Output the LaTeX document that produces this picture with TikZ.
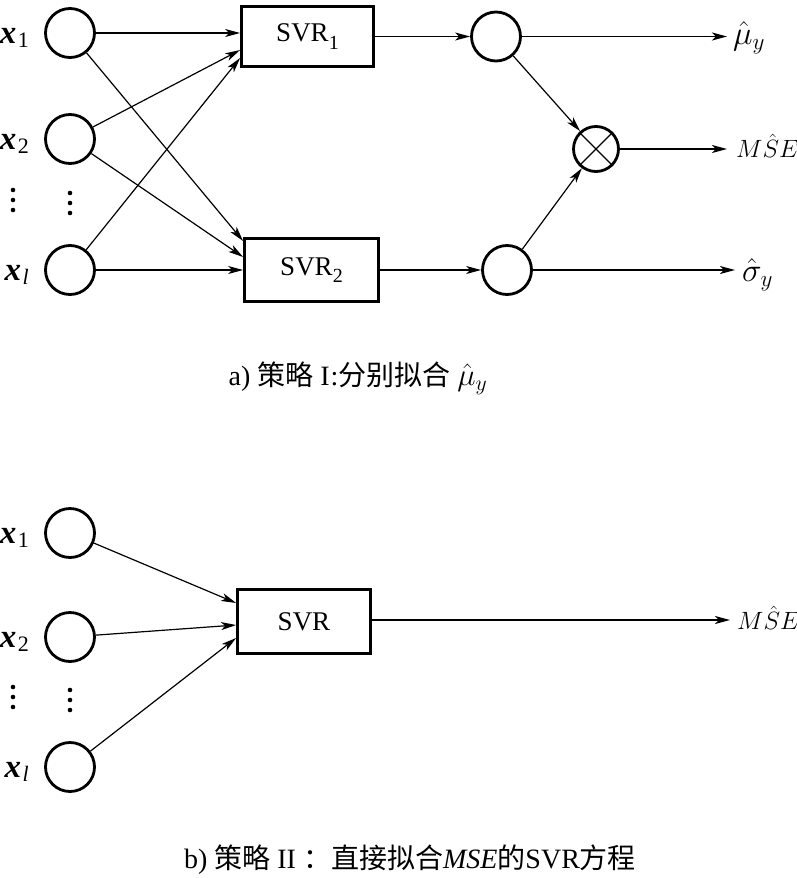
\documentclass[tikz,border=0pt]{standalone}
\usepackage{fix-cm}
\usepackage{fontspec}
\setmainfont{Liberation Serif}
\newfontfamily\cjk{Noto Sans CJK SC}
\usetikzlibrary{arrows.meta,calc}
\newcommand\xlab[1]{\textbf{\textit{x}}\kern1.5pt\raisebox{-0.3ex}{\fontsize{22}{22}\selectfont #1}}
\newcommand\svrsub[1]{SVR\raisebox{-0.28em}{\fontsize{20}{20}\selectfont #1}}
\begin{document}
\begin{tikzpicture}[x=1pt,y=-1pt,
  inp/.style={circle,draw,line width=2.8pt,minimum size=49pt,inner sep=0pt},
  box/.style={draw,line width=2.8pt,inner sep=0pt,font=\fontsize{27}{29}\selectfont},
  conn/.style={line width=1.2pt,-{Stealth[length=15pt,width=8pt,inset=4pt]}},
  thin/.style={line width=1.2pt},
  lab/.style={font=\fontsize{33}{35}\selectfont,anchor=base east,inner sep=0pt},
  outl/.style={font=\fontsize{25}{27}\selectfont,anchor=west,inner sep=0pt},
  outg/.style={font=\fontsize{33}{35}\selectfont,anchor=west,inner sep=0pt},
  capt/.style={font=\fontsize{28}{30}\selectfont,inner sep=0pt}
]
\useasboundingbox (0,0) rectangle (797,878);

% ---------- part a ----------
\node[inp] (a1) at (70,33) {};
\node[inp] (a2) at (70,139) {};
\node[inp] (a3) at (70,270) {};
\node[lab] (la1) at (29,43) {\xlab{1}};
\node[lab] (la2) at (29,149) {\xlab{2}};
\node[lab] (la3) at (29,280) {\xlab{\textit{l}}};
\foreach \yy in {190,200,210} {\fill (13,\yy) circle (2.3);}
\foreach \yy in {193,203,213} {\fill (70,\yy) circle (2.3);}

\node[box,minimum width=132pt,minimum height=60pt] (s1) at (307.5,36.5) {\svrsub{1}};
\node[box,minimum width=134pt,minimum height=63pt] (s2) at (311.5,270) {\svrsub{2}};

\draw[conn] (a1) -- ([yshift=3.5pt]s1.west);
\draw[conn] (a2) -- ([yshift=-13.5pt]s1.west);
\draw[conn] (a3) -- ([yshift=-21.5pt]s1.west);
\draw[conn] (a1) -- ([yshift=29pt]s2.west);
\draw[conn] (a2) -- ([yshift=13pt]s2.west);
\draw[conn] (a3) -- (s2.west);

\node[inp] (m1) at (496,36.5) {};
\node[inp] (m2) at (507,270) {};
\node[inp,minimum size=45pt] (ot) at (596,149) {};
\draw[thin] (ot.north west) -- (ot.south east);
\draw[thin] (ot.north east) -- (ot.south west);

\draw[conn] (s1.east) -- (m1.west);
\draw[conn] (s2.east) -- (m2.west);
\draw[conn] (m1) -- (ot);
\draw[conn] (m2) -- (ot);

\coordinate (o1) at (727,36.5);
\coordinate (o2) at (727,149);
\coordinate (o3) at (735,270);
\draw[conn] (m1) -- (o1);
\draw[conn] (ot) -- (o2);
\draw[conn] (m2) -- (o3);
\node[outg] (lo1) at (733,38) {$\hat{\mu}_y$};
\node[outl] (lo2) at (736,146) {$M\hat{S}E$};
\node[outg] (lo3) at (742,275) {$\hat{\sigma}_y$};

\node[capt] (capa) at (358,378) {a) {\cjk 策略}\ I\kern1pt:{\cjk 分别拟合}\ {\fontsize{31}{31}\selectfont$\hat{\mu}_y$}};

% ---------- part b ----------
\node[inp] (b1) at (70,533) {};
\node[inp] (b2) at (70,637) {};
\node[inp] (b3) at (70,767) {};
\node[lab] (lb1) at (29,543) {\xlab{1}};
\node[lab] (lb2) at (29,647) {\xlab{2}};
\node[lab] (lb3) at (29,777) {\xlab{\textit{l}}};
\foreach \yy in {687,697,707} {\fill (13,\yy) circle (2.3);}
\foreach \yy in {690,700,710} {\fill (70,\yy) circle (2.3);}

\node[box,minimum width=133pt,minimum height=64pt] (sv) at (304,621.5) {SVR};
\draw[conn] (b1) -- ([yshift=18.5pt]sv.west);
\draw[conn] (b2) -- ([yshift=-3.5pt]sv.west);
\draw[conn] (b3) -- ([yshift=-16.5pt]sv.west);
\coordinate (o4) at (730,620);
\draw[conn] ([yshift=1.5pt]sv.east) -- (o4);
\node[outl] (lo4) at (737,618) {$M\hat{S}E$};

\node[capt] (capb) at (410,860) {b) {\cjk 策略}\ II\ {\cjk ：直接拟合}\textit{MSE}{\cjk 的}SVR{\cjk 方程}};
\end{tikzpicture}
\end{document}
